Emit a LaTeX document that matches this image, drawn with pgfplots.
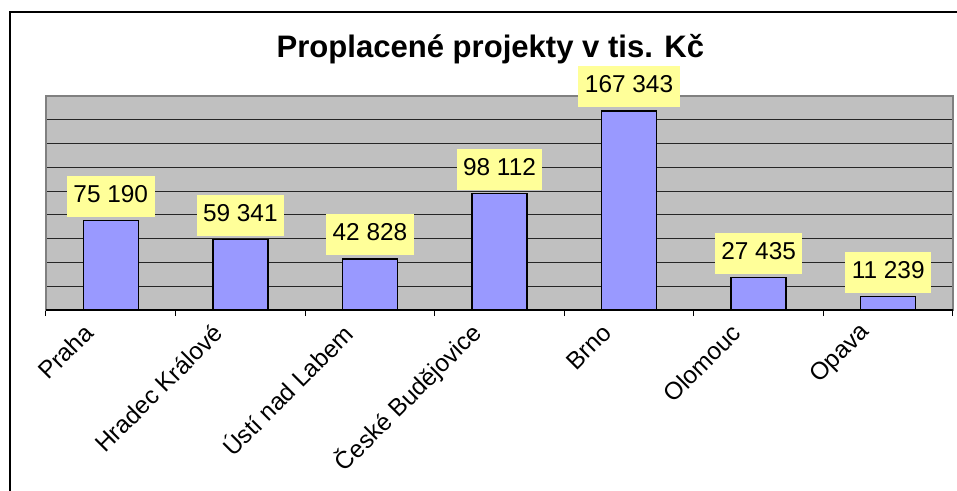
\documentclass[border=0pt]{standalone}
\usepackage{pgfplots}
\pgfplotsset{compat=1.18}
\usepackage{fontspec}
\setmainfont{Liberation Sans}
\definecolor{plotbg}{HTML}{C0C0C0}
\definecolor{barfill}{HTML}{9999FF}
\definecolor{labelbg}{HTML}{FFFF99}
\begin{document}
\begin{tikzpicture}
\useasboundingbox (0,0) rectangle (717.75pt,367.5pt);
\fill[white] (0,0) rectangle (717.75pt,367.5pt);
\draw[line width=1.6pt] (7.5pt,-5pt) -- (7.5pt,358.5pt) -- (725pt,358.5pt);
\begin{axis}[
  at={(34.5pt,135pt)}, anchor=south west,
  scale only axis, width=680.25pt, height=160.5pt,
  ybar, bar width=41.25pt,
  xmin=-0.5, xmax=6.5, ymin=0, ymax=180000,
  scaled y ticks=false,
  xtick={-0.5,0.5,...,6.5},
  x tick label as interval,
  xtick pos=lower,
  xticklabels={Praha,Hradec Králové,Ústí nad Labem,České Budějovice,Brno,Olomouc,Opava},
  xticklabel style={xshift=-16.5pt, yshift=-9.4pt, rotate=45, anchor=east, inner sep=0pt, font=\fontsize{18.3}{21}\selectfont},
  tick align=outside,
  xtick style={black, line width=0.75pt},
  major tick length=4.5pt,
  ytick={20000,40000,...,160000},
  yticklabels={},
  ytick style={draw=none},
  ymajorgrids,
  grid style={black!85, line width=0.75pt},
  axis background/.style={fill=plotbg},
  axis line style={draw=black!50, line width=1.1pt},
  clip=false,
  every axis title/.style={at={(0.49,1)}, anchor=base, yshift=29.25pt, font=\bfseries\fontsize{23.3}{26}\selectfont},
  title={Proplacené projekty v tis. Kč},
  nodes near coords,
  point meta=explicit symbolic,
  every node near coord/.append style={fill=labelbg, inner xsep=4.9pt, inner ysep=6.9pt, text height=13pt, text depth=4pt, font=\fontsize{18.3}{20}\selectfont, anchor=south, yshift=2.25pt, text=black},
]
\addplot[fill=barfill, draw=black, line width=1pt] coordinates {
  (0,75190) [75 190]
  (1,59341) [59 341]
  (2,42828) [42 828]
  (3,98112) [98 112]
  (4,167343) [167 343]
  (5,27435) [27 435]
  (6,11239) [11 239]
};
\draw[black, line width=1pt] (rel axis cs:0,0) -- (rel axis cs:1,0);
\end{axis}
\end{tikzpicture}
\end{document}
